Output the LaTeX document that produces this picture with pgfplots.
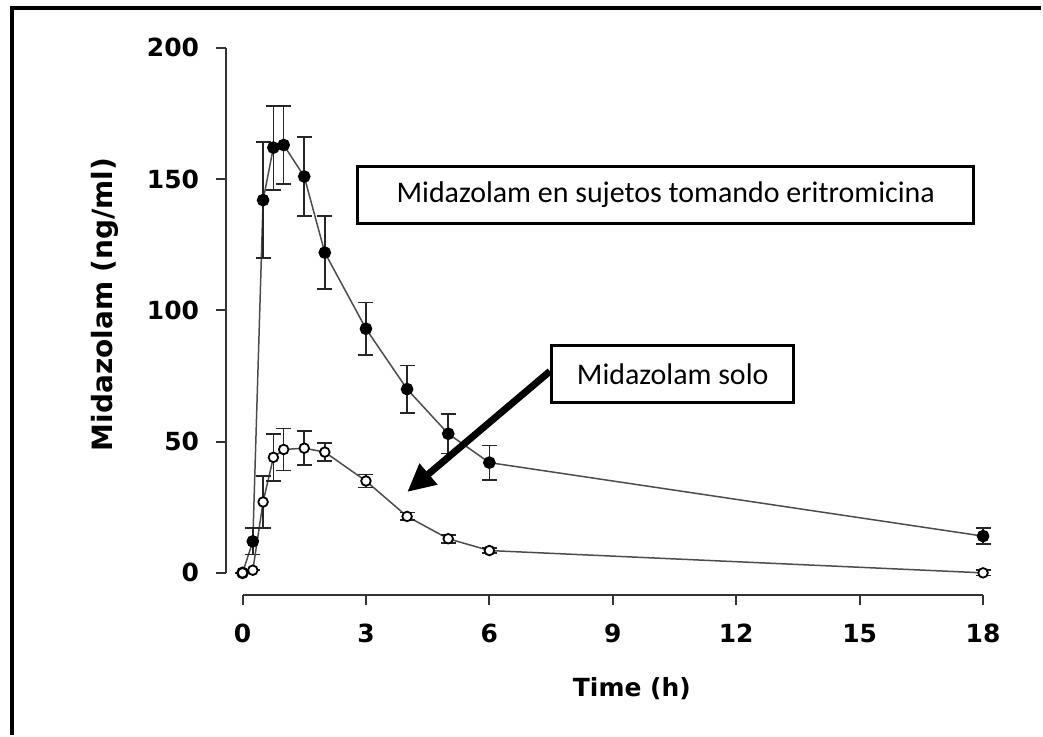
\documentclass[border=0pt]{standalone}
\usepackage{fontspec}
\setmainfont{Carlito}
\newfontfamily\dejavu{DejaVu Sans}
\usepackage{pgfplots}
\pgfplotsset{compat=1.18}
\usepackage{pgfplotstable}
\usetikzlibrary{arrows.meta}

% time (h), concentration (ng/ml), error
\pgfplotstableread{
t c e
0 0 0
0.25 12 5
0.5 142 22
0.75 162 16
1 163 15
1.5 151 15
2 122 14
3 93 10
4 70 9
5 53 7.5
6 42 6.5
18 14 3
}\eritro

\pgfplotstableread{
t c e
0 0 0
0.25 1 0
0.5 27 10
0.75 44 9
1 47 8
1.5 47.5 6.5
2 46 3.5
3 35 2.5
4 21.5 1.5
5 13 1.5
6 8.5 1
18 0 1
}\solo

\begin{document}
\begin{tikzpicture}
\begin{axis}[
  scale only axis, width=379.25pt, height=274.05pt,
  xmin=-0.4, xmax=18, ymin=-8.4, ymax=200,
  axis lines*=left, axis line style={draw=none},
  xtick={0,3,...,18}, ytick={0,50,...,200},
  tick align=outside, major tick length=5pt,
  tick style={line width=1pt, black!80},
  /pgf/number format/assume math mode=true,
  tick label style={font=\dejavu\bfseries\fontsize{12.5}{14}\selectfont},
  xticklabel style={yshift=-6pt},
  yticklabel style={xshift=-5pt},
  xlabel={Time (h)}, ylabel={Midazolam (ng/ml)},
  xlabel style={font=\dejavu\bfseries\fontsize{12.5}{14}\selectfont,
    at={(axis description cs:0.536,-0.171)}, anchor=center},
  ylabel style={font=\dejavu\bfseries\fontsize{14}{16}\selectfont,
    at={(axis description cs:-0.160,0.531)}, anchor=center},
  clip=false,
]
% page size and frame
\path (axis cs:-5.895,-61.6) rectangle (axis cs:19.408,218.25);
\draw[line width=2pt] (axis cs:-5.592,-61.6) -- (axis cs:-5.592,215.2) -- (axis cs:19.408,215.2);
% axis lines only over the data range
\draw[line width=1pt, black!80] (axis cs:0,-8.4) -- (axis cs:18,-8.4);
\draw[line width=1pt, black!80] (axis cs:-0.4,0) -- (axis cs:-0.4,200);

\addplot[black!70, line width=0.75pt, mark=*, mark size=2.8pt,
  mark options={draw=black, fill=black},
  error bars/.cd, y dir=both, y explicit,
  error bar style={line width=0.75pt, black!85},
  error mark options={rotate=90, mark size=3.75pt, line width=0.9pt, black!85}]
  table[x=t, y=c, y error=e] {\eritro};

\addplot[black!70, line width=0.75pt, mark=*, mark size=2.4pt,
  mark options={draw=black, fill=white, line width=0.9pt},
  error bars/.cd, y dir=both, y explicit,
  error bar style={line width=0.75pt, black!85},
  error mark options={rotate=90, mark size=3.75pt, line width=0.9pt, black!85}]
  table[x=t, y=c, y error=e] {\solo};

\node[draw, line width=1.5pt, minimum width=308.5pt, minimum height=28.5pt,
  inner sep=0pt, fill=white, font=\fontsize{15}{18}\selectfont]
  at (axis cs:10.286,144.1) {Midazolam en sujetos tomando eritromicina};
\node[draw, line width=1.5pt, minimum width=121.5pt, minimum height=28.5pt,
  inner sep=0pt, fill=white, font=\fontsize{15}{18}\selectfont]
  at (axis cs:10.456,75.67) {Midazolam solo};
\draw[line width=3.5pt, -{Triangle[length=14pt, width=13pt]}]
  (axis cs:7.472,76.8) -- (axis cs:4.003,30.8);
\end{axis}
\end{tikzpicture}
\end{document}
